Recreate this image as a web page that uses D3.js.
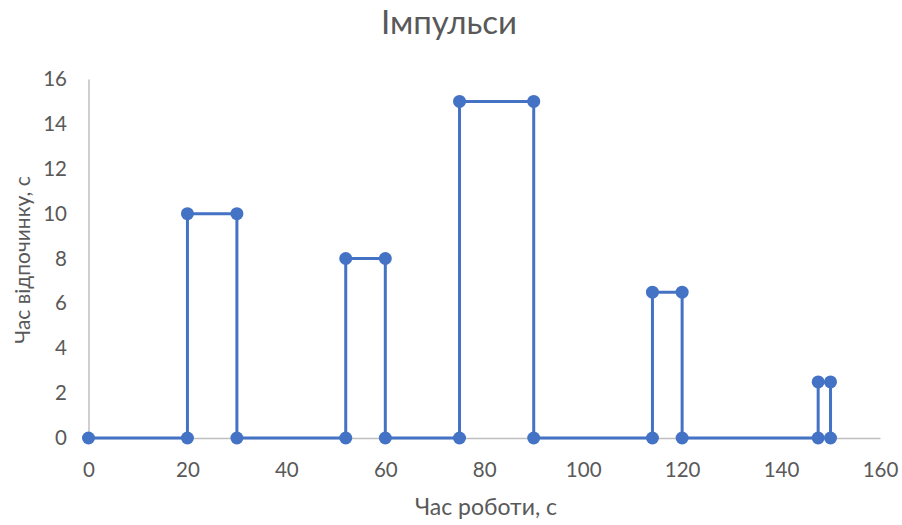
<!DOCTYPE html>
<html>
<head>
<meta charset="utf-8">
<script src="https://cdn.jsdelivr.net/npm/d3@7"></script>
<style>
  html, body { margin: 0; padding: 0; background: #fff; }
  svg { display: block; }
  text { font-family: Lato, "Open Sans", sans-serif; fill: #595959; }
</style>
</head>
<body>
<svg id="chart" width="902" height="525"></svg>
<script>
// Work time (s) and rest time (s) for the pulse train
const workTime = [0, 20, 20, 30, 30, 52, 52, 60, 60, 75, 75, 90, 90, 114, 114, 120, 120, 147.5, 147.5, 150, 150];
const restTime = [0, 0, 10, 10, 0, 0, 8, 8, 0, 0, 15, 15, 0, 0, 6.5, 6.5, 0, 0, 2.5, 2.5, 0];
const xTicks = [0, 20, 40, 60, 80, 100, 120, 140, 160];
const yTicks = [0, 2, 4, 6, 8, 10, 12, 14, 16];

const chartTitle = "Імпульси";
const xTitle = "Час роботи, с";
const yTitle = "Час відпочинку, с";

const svg = d3.select("#chart");
const plotLeft = 88.5, plotRight = 880, plotTop = 79, plotBottom = 438;

const x = d3.scaleLinear().domain([0, 160]).range([plotLeft, plotRight]);
const y = d3.scaleLinear().domain([0, 16]).range([plotBottom, plotTop]);

// Axes
const xAxis = svg.append("g")
  .attr("transform", `translate(0,${plotBottom})`)
  .call(d3.axisBottom(x).tickValues(xTicks).tickSize(0).tickPadding(24));
xAxis.select(".domain").attr("stroke", "#bfbfbf").attr("stroke-width", 1.5);
xAxis.selectAll("text").style("font-size", "20.5px").attr("fill", "#595959");

const yAxis = svg.append("g")
  .attr("transform", `translate(${plotLeft},0)`)
  .call(d3.axisLeft(y).tickValues(yTicks).tickSize(0).tickPadding(21.5));
yAxis.select(".domain").attr("stroke", "#bfbfbf").attr("stroke-width", 1.5);
yAxis.selectAll("text").style("font-size", "20.5px").attr("fill", "#595959");

// Series: stepped outline of the pulses with a marker at every point
const pts = workTime.map((w, i) => [w, restTime[i]]);
const line = d3.line().x(d => x(d[0])).y(d => y(d[1]));

svg.append("path")
  .datum(pts)
  .attr("d", line)
  .attr("fill", "none")
  .attr("stroke", "#4472c4")
  .attr("stroke-width", 3);

svg.append("g").selectAll("circle")
  .data(pts)
  .join("circle")
  .attr("cx", d => x(d[0]))
  .attr("cy", d => y(d[1]))
  .attr("r", 6.5)
  .attr("fill", "#4472c4");

// Titles
svg.append("text")
  .attr("x", 449).attr("y", 34)
  .attr("text-anchor", "middle")
  .style("font-size", "33px")
  .text(chartTitle);

svg.append("text")
  .attr("x", 486).attr("y", 515)
  .attr("text-anchor", "middle")
  .style("font-size", "23px")
  .text(xTitle);

svg.append("text")
  .attr("transform", `translate(30,260) rotate(-90)`)
  .attr("text-anchor", "middle")
  .style("font-size", "21px")
  .text(yTitle);
</script>
</body>
</html>
